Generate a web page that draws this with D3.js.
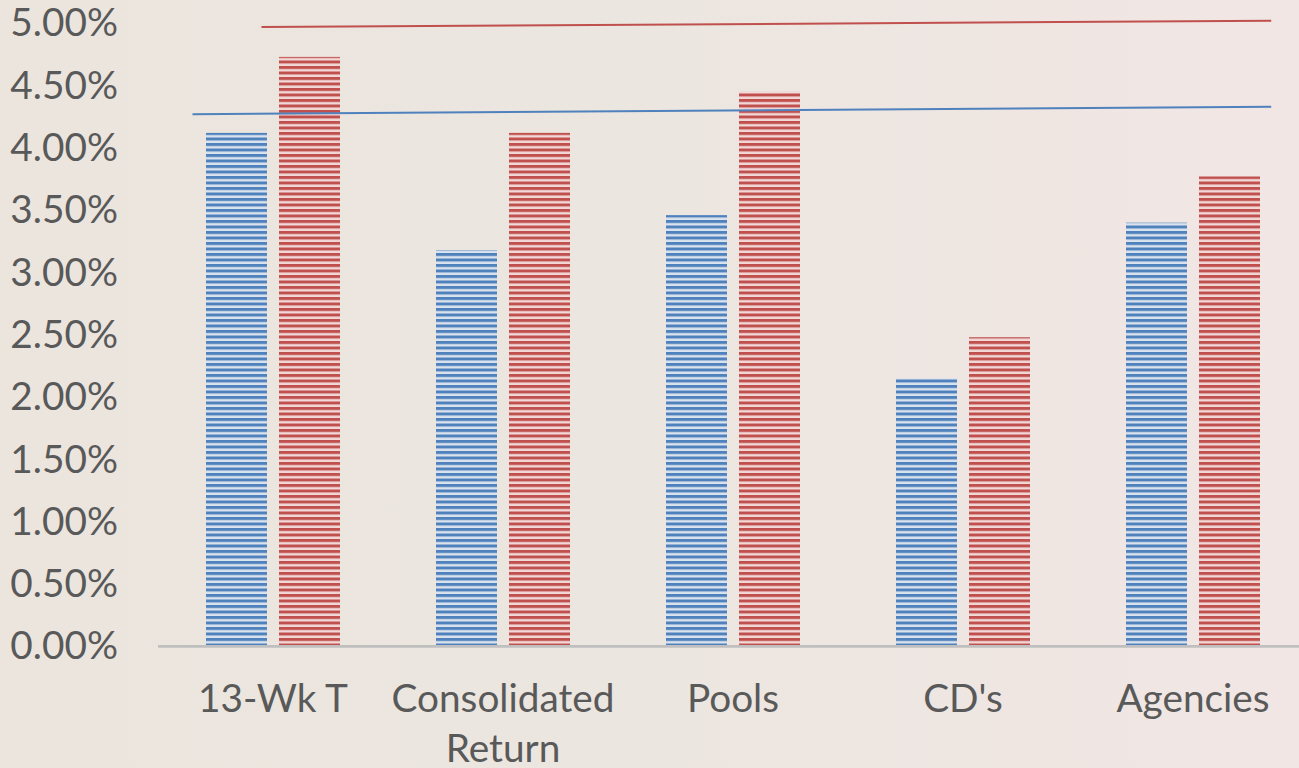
<!DOCTYPE html>
<html><head><meta charset="utf-8">
<script src="https://cdn.jsdelivr.net/npm/d3@7"></script>
<style>html,body{margin:0;padding:0;overflow:hidden;background:#ede6e0}</style>
</head><body><svg id="c" width="1299" height="768"></svg>
<script>
const categories = [["13-Wk T"], ["Consolidated", "Return"], ["Pools"], ["CD's"], ["Agencies"]];
const seriesBlue = [4.11, 3.17, 3.45, 2.14, 3.39];
const seriesRed = [4.72, 4.11, 4.44, 2.47, 3.76];
const yTicks = [0, 0.5, 1, 1.5, 2, 2.5, 3, 3.5, 4, 4.5, 5];
// reference lines: [category position, value]
const lineRed = [[-0.05, 4.96], [4.34, 5.01]];
const lineBlue = [[-0.35, 4.26], [4.34, 4.32]];

const svg = d3.select("#c");
const W = 1299, H = 768;
const FONT = "Lato", FW = 400;
const defs = svg.append("defs");
const bg = defs.append("linearGradient").attr("id","bg").attr("x1","0").attr("x2","1").attr("y1","0").attr("y2","0");
bg.append("stop").attr("offset","0").attr("stop-color","#ebe5de");
bg.append("stop").attr("offset","0.5").attr("stop-color","#ece6e0");
bg.append("stop").attr("offset","1").attr("stop-color","#f1e6e4");
svg.append("rect").attr("width",W).attr("height",H).attr("fill","url(#bg)");

// fit font size so "Consolidated" spans ~223px as in the reference
const probe = svg.append("text").attr("font-family",FONT).attr("font-weight",FW).attr("font-size",100).text("Consolidated");
const FS = 100*223/probe.node().getComputedTextLength();
probe.remove();

function stripe(id, fg, light){
  const p = defs.append("pattern").attr("id",id).attr("patternUnits","userSpaceOnUse")
    .attr("width",10).attr("height",5.5);
  p.append("rect").attr("width",10).attr("height",5.5).attr("fill",light);
  p.append("rect").attr("width",10).attr("height",3).attr("fill",fg);
}
stripe("pb","#4f81bd","#dbe3ee");
stripe("pr","#c0504d","#f2d9d8");

const x = d3.scaleBand().domain(d3.range(categories.length)).range([158, 1308]).padding(0);
const y = d3.scaleLinear().domain([0,5]).range([645, 22]);
const xl = d3.scaleLinear().domain([0, 1]).range([x(0)+x.bandwidth()/2, x(1)+x.bandwidth()/2]);

const bw = 61, gap = 12;
const g = svg.append("g");
seriesBlue.forEach((v,i)=>{
  const c = x(i)+x.bandwidth()/2;
  g.append("rect").attr("x", c-gap/2-bw).attr("width",bw).attr("y",y(v)).attr("height",y(0)-y(v)).attr("fill","url(#pb)");
});
seriesRed.forEach((v,i)=>{
  const c = x(i)+x.bandwidth()/2;
  g.append("rect").attr("x", c+gap/2).attr("width",bw).attr("y",y(v)).attr("height",y(0)-y(v)).attr("fill","url(#pr)");
});

// axis line
svg.append("line").attr("x1",158).attr("x2",W).attr("y1",y(0)+1.3).attr("y2",y(0)+1.3)
  .attr("stroke","#bfbfbf").attr("stroke-width",2.7);

// y labels
const yAxis = d3.axisLeft(y).tickValues(yTicks).tickFormat(d=>d.toFixed(2)+"%").tickSize(0).tickPadding(0);
const ya = svg.append("g").attr("transform","translate(118,0)").call(yAxis);
ya.select(".domain").remove();
ya.selectAll("text").attr("font-family",FONT).attr("font-size",FS).attr("font-weight",FW).attr("fill","#595959").attr("dy","0.36em");

// x labels
categories.forEach((lines,i)=>{
  const cx = x(i)+x.bandwidth()/2;
  const t = svg.append("text").attr("x", cx).attr("y",712)
    .attr("text-anchor","middle").attr("font-family",FONT).attr("font-size",FS).attr("font-weight",FW).attr("fill","#595959");
  lines.forEach((l,j)=>t.append("tspan").attr("x", cx).attr("dy", j?50:0).text(l));
});

// lines
const ln = d3.line().x(d=>xl(d[0])).y(d=>y(d[1]));
svg.append("path").attr("d",ln(lineRed)).attr("stroke","#c0504d").attr("stroke-width",2).attr("fill","none");
svg.append("path").attr("d",ln(lineBlue)).attr("stroke","#4f81bd").attr("stroke-width",2).attr("fill","none");
</script></body></html>
